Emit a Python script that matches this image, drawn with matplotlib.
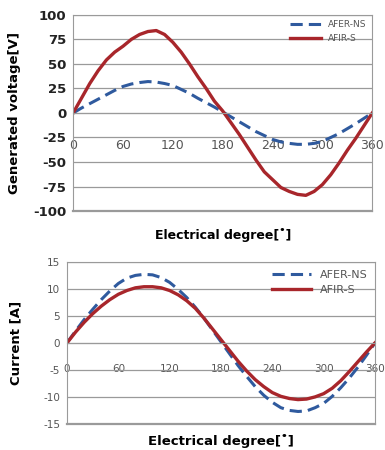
import matplotlib.pyplot as plt

# electrical degree sample points
deg = [0, 10, 20, 30, 40, 50, 60, 70, 80, 90, 100, 110, 120, 130, 140, 150, 160, 170, 180,
       190, 200, 210, 220, 230, 240, 250, 260, 270, 280, 290, 300, 310, 320, 330, 340, 350, 360]

# generated voltage [V]
volt_afer_ns = [0, 5, 9.5, 14, 18.5, 23, 27, 29.5, 31, 32, 31.5, 30, 28, 24, 20, 15, 10.5, 6, 1,
                -4, -9, -14, -19, -23, -27, -29.5, -31, -32, -32, -31, -29, -25, -21, -16, -11, -5.5, 0]
volt_afir_s = [0, 15, 30, 43, 54, 62, 68, 75, 80, 83, 84, 80, 72, 62, 50, 37, 25, 12, 2,
               -10, -22, -35, -48, -60, -68, -76, -80, -83, -84, -80, -73, -63, -51, -38, -26, -13, 0]

# current [A]
cur_afer_ns = [0, 2.2, 4.3, 6.2, 8, 9.6, 11, 12, 12.5, 12.7, 12.6, 12.1, 11.2, 9.9, 8.4, 6.6, 4.6, 2.4, 0.2,
               -2, -4.2, -6.2, -8.1, -9.7, -11, -12, -12.5, -12.7, -12.6, -12, -11.2, -9.9, -8.3, -6.5, -4.5, -2.3, 0]
cur_afir_s = [0, 2, 3.8, 5.4, 6.8, 8, 9, 9.7, 10.2, 10.4, 10.4, 10.2, 9.7, 8.9, 7.8, 6.4, 4.6, 2.6, 0.6,
              -1.4, -3.4, -5.2, -6.8, -8.1, -9.2, -9.9, -10.3, -10.5, -10.4, -10, -9.4, -8.4, -7, -5.3, -3.5, -1.7, 0]

xticks = [0, 60, 120, 180, 240, 300, 360]
BLUE = '#2f5a9e'
RED = '#a8262b'
GRID = '#9a9a9a'

plt.rcParams['font.family'] = ['DejaVu Sans']
plt.rcParams['axes.unicode_minus'] = False

fig = plt.figure(figsize=(3.85, 4.5), dpi=100)
ax1 = fig.add_axes([0.19, 0.531, 0.777, 0.436])
ax2 = fig.add_axes([0.174, 0.058, 0.80, 0.360])


def style(ax, yticks, yfont, xfont, ybold, xpad):
    ax.set_xlim(0, 360)
    ax.set_ylim(yticks[0], yticks[-1])
    ax.set_yticks(yticks)
    ax.set_xticks(xticks)
    ax.grid(axis='y', color=GRID, lw=0.9)
    ax.set_axisbelow(True)
    for s in ['top', 'right', 'left']:
        ax.spines[s].set_color(GRID)
    ax.spines['bottom'].set_position(('data', 0))
    ax.spines['bottom'].set_color(GRID)
    ax.axhline(yticks[0], color=GRID, lw=1.6, clip_on=False)
    ax.tick_params(axis='x', length=0, labelsize=xfont, pad=xpad, labelcolor='#555555')
    ax.tick_params(axis='y', length=0, labelsize=yfont, pad=5,
                   labelcolor='#222222' if ybold else '#555555')
    if ybold:
        for t in ax.get_yticklabels():
            t.set_fontweight('bold')


ax1.plot(deg, volt_afer_ns, '--', color=BLUE, lw=2.2, dashes=(4, 2), label='AFER-NS')
ax1.plot(deg, volt_afir_s, '-', color=RED, lw=2.4, label='AFIR-S')
style(ax1, [-100, -75, -50, -25, 0, 25, 50, 75, 100], 9.5, 9, True, 19)
ax1.set_ylabel('Generated voltage[V]', fontsize=9.5, fontweight='bold')
ax1.yaxis.set_label_coords(-0.175, 0.5)
ax1.set_xlabel('Electrical degree[˚]', fontsize=9, fontweight='bold')
ax1.xaxis.set_label_coords(0.5, -0.085)
ax1.legend(loc='upper right', frameon=False, fontsize=6.5, handlelength=3.5,
           labelcolor='#555555', borderaxespad=0.2)

ax2.plot(deg, cur_afer_ns, '--', color=BLUE, lw=2.2, dashes=(4, 2), label='AFER-NS')
ax2.plot(deg, cur_afir_s, '-', color=RED, lw=2.4, label='AFIR-S')
style(ax2, [-15, -10, -5, 0, 5, 10, 15], 7.5, 7.5, False, 15)
ax2.set_ylabel('Current [A]', fontsize=9.5, fontweight='bold')
ax2.yaxis.set_label_coords(-0.145, 0.5)
ax2.set_xlabel('Electrical degree[˚]', fontsize=9.5, fontweight='bold')
ax2.xaxis.set_label_coords(0.5, -0.06)
ax2.legend(loc='upper right', frameon=False, fontsize=8, handlelength=3.5,
           labelcolor='#555555', borderaxespad=0.3)

fig.savefig('out.png', dpi=100)
